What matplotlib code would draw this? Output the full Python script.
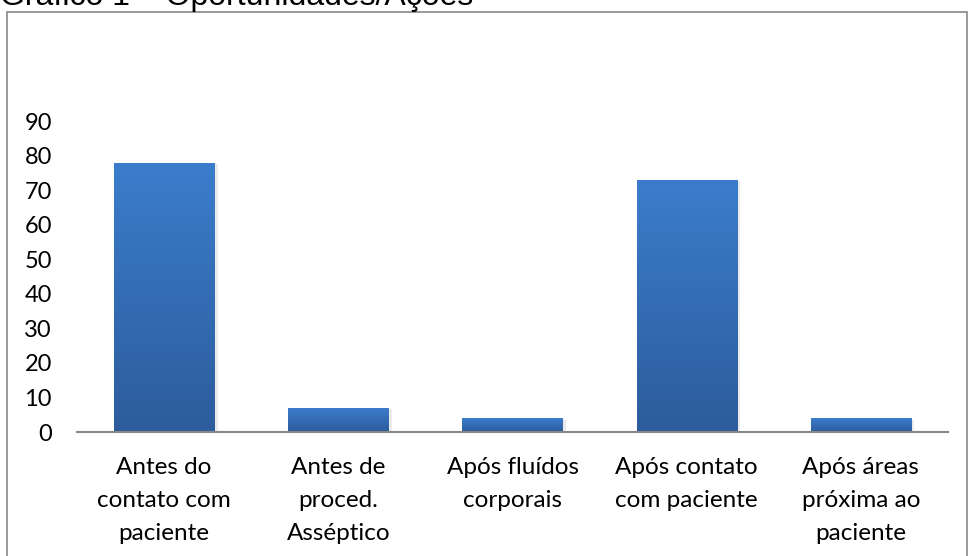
import numpy as np
import matplotlib.pyplot as plt
from matplotlib.patches import Rectangle
from matplotlib.colors import LinearSegmentedColormap

# data
categories = ["Antes do\ncontato com\npaciente", "Antes de\nproced.\nAsséptico",
              "Após fluídos\ncorporais", "Após contato\ncom paciente",
              "Após áreas\npróxima ao\npaciente"]
values = [78, 7, 4, 73, 4]
yticks = [0, 10, 20, 30, 40, 50, 60, 70, 80, 90]

fig = plt.figure(figsize=(9.68, 5.56), dpi=100)
fig.patch.set_facecolor("white")

# outer chart frame
fig.patches.append(Rectangle((7 / 968, -0.1), 0.992 - 7 / 968 + 0.007, 1.1 - 12 / 556,
                             transform=fig.transFigure, fill=False,
                             edgecolor="#888888", linewidth=1.2))
# title (cut off at the top edge, like the source)
fig.text(0.0, 1 - 5 / 556, "Gráfico 1 – Oportunidades/Ações", fontsize=23,
         family="Liberation Sans", va="baseline", ha="left")

ax = fig.add_axes([77 / 968, 0.223, (948 - 77) / 968, 0.782 - 0.223])
x = np.arange(len(values))
bars = ax.bar(x, values, width=0.575, color="#3474c0", zorder=2)

# vertical gradient inside each bar
cmap = LinearSegmentedColormap.from_list("g", ["#2c5c9c", "#3b7dcc"])
grad = np.linspace(0, 1, 256).reshape(-1, 1)
for b in bars:
    x0, y0 = b.get_x(), b.get_y()
    w, h = b.get_width(), b.get_height()
    # soft shadow
    ax.add_patch(Rectangle((x0 + 0.02, y0 - 0.4), w, h, color="#000000", alpha=0.08,
                           zorder=1, linewidth=0))
    im = ax.imshow(grad, cmap=cmap, origin="lower", aspect="auto",
                   extent=[x0, x0 + w, y0, y0 + h], zorder=3)
    im.set_clip_path(b)

ax.set_xlim(-0.5, len(values) - 0.5)
ax.set_ylim(0, 90)
ax.set_yticks(yticks)
ax.set_xticks(x)
ax.set_xticklabels(categories, family="Lato", fontsize=17.5, linespacing=1.72)
for lbl in ax.get_yticklabels():
    lbl.set_family("Lato")
    lbl.set_fontsize(17)
ax.tick_params(axis="both", length=0)
ax.tick_params(axis="y", pad=18)
ax.tick_params(axis="x", pad=18)
for s in ["top", "right", "left"]:
    ax.spines[s].set_visible(False)
ax.spines["bottom"].set_color("#888888")
ax.spines["bottom"].set_linewidth(1.5)
ax.spines["bottom"].set_zorder(4)

fig.savefig("out.png", dpi=100)
